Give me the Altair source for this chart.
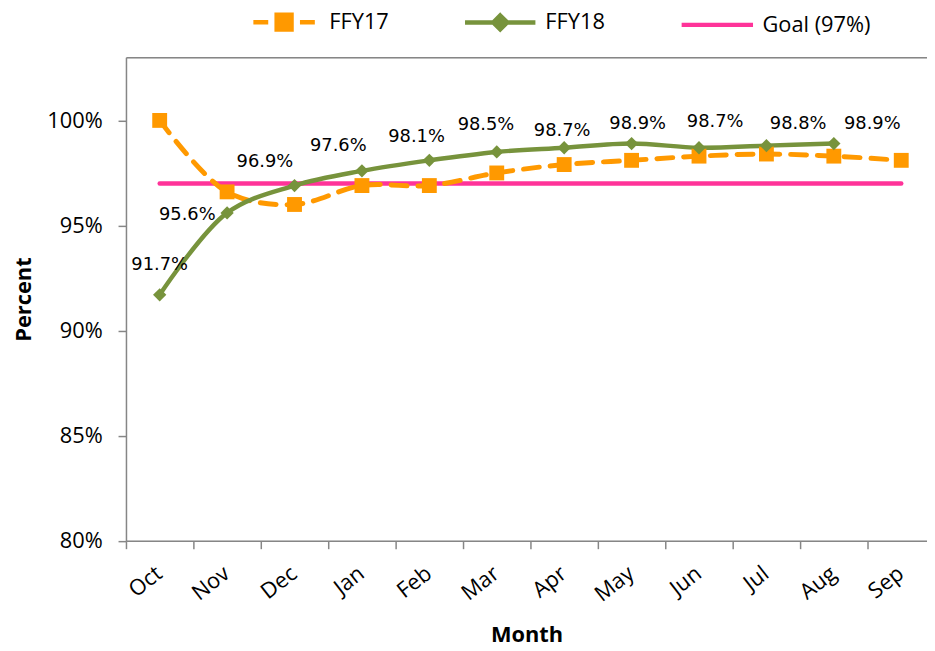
import altair as alt
import pandas as pd

months = ["Oct", "Nov", "Dec", "Jan", "Feb", "Mar", "Apr", "May", "Jun", "Jul", "Aug", "Sep"]
ffy17 = [100.0, 96.6, 96.0, 96.9, 96.9, 97.5, 97.9, 98.1, 98.3, 98.4, 98.3, 98.1]
ffy18 = [91.7, 95.6, 96.9, 97.6, 98.1, 98.5, 98.7, 98.9, 98.7, 98.8, 98.9]
goal = 97.0
series_names = ["FFY17", "FFY18", "Goal (97%)"]
colors = ["#FF9900", "#77933C", "#FF3399"]

# label placement nudges (category units, percent points)
label_dx = [0.0, -0.59, -0.44, -0.35, -0.19, -0.16, -0.03, 0.09, 0.24, 0.47, 0.57]
label_dy = [1.42, -0.09, 1.13, 1.18, 1.13, 1.27, 0.80, 0.94, 1.23, 1.04, 0.94]

d17 = pd.DataFrame({"idx": list(range(len(ffy17))), "value": ffy17, "series": "FFY17"})
d18 = pd.DataFrame({"idx": list(range(len(ffy18))), "value": ffy18, "series": "FFY18"})
dgoal = pd.DataFrame({"idx": list(range(len(months))), "value": [goal] * len(months), "series": "Goal (97%)"})
dall = pd.concat([d17, d18, dgoal], ignore_index=True)

lab = pd.DataFrame({
    "idx": list(range(len(ffy18))),
    "value": ffy18,
    "ldx": label_dx,
    "ldy": label_dy,
})

FONT = "Open Sans"
GRAY = "#868686"
W, H = 808, 487.6
month_js = "[" + ",".join("'%s'" % m for m in months) + "]"

xscale = alt.Scale(domain=[-0.5, 11.382], nice=False, zero=False)
yscale = alt.Scale(domain=[80, 103], nice=False, zero=False)

# legend glyphs: line (+ marker) drawn as one custom symbol path per series
sq = "M-0.75,-0.75L0.75,-0.75L0.75,0.75L-0.75,0.75Z"
dm = "M0,-0.7L0.7,0L0,0.7L-0.7,0Z"
p17 = "M-3.1,0L-1.6,0M1.6,0L3.1,0" + sq
p18 = "M-3.55,0L3.55,0" + dm
pgoal = "M-3.6,0L3.6,0"

legend = alt.Legend(
    title=None, orient="none", direction="horizontal",
    legendX=147, legendY=-48,
    symbolSize=400, symbolStrokeWidth=4.5, symbolOpacity=1,
    labelFont=FONT, labelFontSize=22, labelColor="#000000",
    labelOffset=33, columnPadding=67,
)

x_bottom = alt.Axis(
    values=[i - 0.5 for i in range(12)],
    labelExpr=month_js + "[round(datum.value + 0.5)]",
    labelOffset=27, labelAngle=-38, labelAlign="right", labelBaseline="top",
    labelPadding=14, labelFont=FONT, labelFontSize=22, labelColor="#000000",
    tickSize=8, tickColor=GRAY, tickWidth=1.5, domainColor=GRAY, domainWidth=1.5,
    grid=False, title="Month", titleFont=FONT, titleFontSize=22, titleFontWeight="bold",
    titleColor="#000000", titleY=95, titleBaseline="middle",
)
y_axis = alt.Axis(
    values=[80, 85, 90, 95, 100], labelExpr="datum.value + '%'",
    labelFont=FONT, labelFontSize=22, labelColor="#000000", labelPadding=16,
    tickSize=8, tickColor=GRAY, tickWidth=1.5, domainColor=GRAY, domainWidth=1.5,
    grid=False, title="Percent", titleFont=FONT, titleFontSize=22, titleFontWeight="bold",
    titleColor="#000000", titleX=-103, titleBaseline="middle", titleAlign="center", titleAngle=270,
)
x_top = alt.Axis(orient="top", labels=False, ticks=False, domainColor=GRAY, domainWidth=1.5,
                 grid=False, title=None)


def enc(ch, xaxis=None):
    return ch.encode(
        x=alt.X("idx:Q", scale=xscale, axis=xaxis),
        y=alt.Y("value:Q", scale=yscale, axis=y_axis),
        order=alt.Order("idx:Q"),
    )


goal_line = enc(alt.Chart(dgoal).mark_line(color=colors[2], strokeWidth=4.5, strokeCap="round"), xaxis=x_bottom)
line17 = enc(alt.Chart(d17).mark_line(color=colors[0], strokeWidth=5, strokeCap="round",
                                      strokeDash=[16, 11], interpolate="catmull-rom"))
line18 = enc(alt.Chart(d18).mark_line(color=colors[1], strokeWidth=4.5, strokeCap="round",
                                      interpolate="catmull-rom"))
sq17 = enc(alt.Chart(d17).mark_point(filled=True, opacity=1, shape="square", size=225, color=colors[0]))
dm18 = enc(alt.Chart(d18).mark_point(filled=True, opacity=1, shape="diamond", size=180, color=colors[1]))

labels = alt.Chart(lab).transform_calculate(
    lx="datum.idx + datum.ldx", ly="datum.value + datum.ldy",
    txt="format(datum.value, '.1f') + '%'",
).mark_text(font="DejaVu Sans", fontSize=18, color="#000000", align="center", baseline="middle").encode(
    x=alt.X("lx:Q", scale=xscale, axis=x_top),
    y=alt.Y("ly:Q", scale=yscale, axis=y_axis),
    text="txt:N",
)

legend_layer = alt.Chart(dall).mark_point(opacity=0, strokeWidth=4.5).encode(
    x=alt.X("idx:Q", scale=xscale, axis=None),
    y=alt.Y("value:Q", scale=yscale, axis=y_axis),
    fill=alt.Fill("series:N", scale=alt.Scale(domain=series_names, range=[colors[0], colors[1], "transparent"]), legend=legend),
    stroke=alt.Stroke("series:N", scale=alt.Scale(domain=series_names, range=colors), legend=legend),
    shape=alt.Shape("series:N", scale=alt.Scale(domain=series_names, range=[p17, p18, pgoal]), legend=legend),
)

chart = alt.layer(goal_line, line17, line18, sq17, dm18, labels, legend_layer).resolve_axis(x="independent").properties(
    width=W, height=H,
    autosize=alt.AutoSizeParams(type="none"),
    padding={"left": 119, "top": 47, "right": 0, "bottom": 106},
).configure_view(stroke=None).configure(background="#ffffff")

chart.save("out.html", embed_options={"renderer": "svg", "actions": False})
